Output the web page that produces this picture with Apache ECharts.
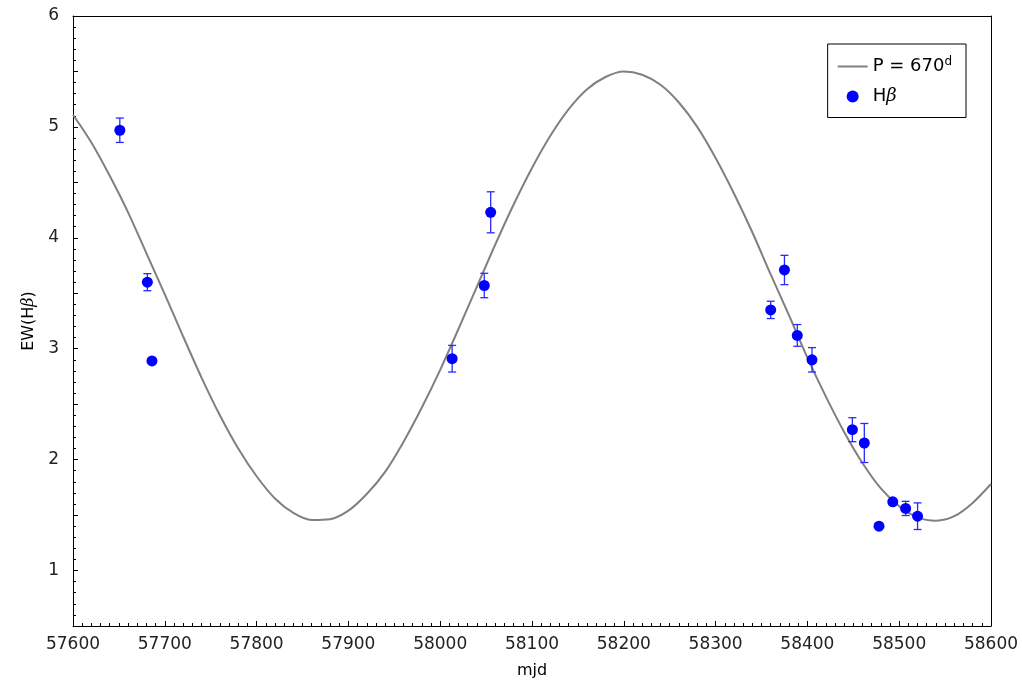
<!DOCTYPE html>
<html lang="en">
<head>
    <meta charset="UTF-8">
    <title>EW(Hβ)</title>
    <script src="https://cdn.jsdelivr.net/npm/echarts@6/dist/echarts.min.js"></script>
</head>
<body style="margin:0">
<div id="main" style="width:1022px;height:685px"></div>

<script>
    // model curve (P = 670 d), every 20 days
    var curveX = [57600, 57620, 57640, 57660, 57680, 57700, 57720, 57740, 57760, 57780,
        57800, 57820, 57840, 57860, 57880, 57900, 57920, 57940, 57960, 57980,
        58000, 58020, 58040, 58060, 58080, 58100, 58120, 58140, 58160, 58180,
        58200, 58220, 58240, 58260, 58280, 58300, 58320, 58340, 58360, 58380,
        58400, 58420, 58440, 58460, 58480, 58500, 58520, 58540, 58560, 58580, 58600];
    var curveY = [5.11, 4.86, 4.56, 4.23, 3.86, 3.49, 3.11, 2.74, 2.40, 2.10,
        1.85, 1.65, 1.52, 1.456, 1.463, 1.54, 1.69, 1.89, 2.16, 2.47,
        2.81, 3.18, 3.56, 3.94, 4.30, 4.63, 4.92, 5.16, 5.34, 5.45,
        5.50, 5.47, 5.38, 5.22, 5.00, 4.72, 4.40, 4.05, 3.67, 3.30,
        2.92, 2.57, 2.25, 1.97, 1.74, 1.58, 1.48, 1.45, 1.49, 1.61, 1.78];

    // Hβ measurements
    var mjd = [57651, 57681, 57686, 58013, 58048, 58055, 58360, 58375,
        58389, 58405, 58449, 58462, 58478, 58493, 58507, 58520];
    var ew = [4.97, 3.60, 2.89, 2.91, 3.57, 4.23, 3.35, 3.71,
        3.12, 2.90, 2.27, 2.15, 1.40, 1.62, 1.56, 1.49];
    var ewErr = [0.11, 0.077, 0.02, 0.12, 0.11, 0.185, 0.078, 0.132,
        0.098, 0.11, 0.108, 0.176, 0.02, 0.02, 0.064, 0.12];

    var yTicks = [1, 2, 3, 4, 5, 6];

    var curve = [];
    for (var i = 0; i < curveX.length; i++) {
        curve.push([curveX[i], curveY[i]]);
    }
    var points = [];
    for (var j = 0; j < mjd.length; j++) {
        points.push([mjd[j], ew[j], ewErr[j]]);
    }

    var myChart = echarts.init(document.getElementById("main"));
    var font = 'DejaVu Sans';
    var frame = {
        type: 'value',
        axisLine: {show: true, onZero: false, lineStyle: {color: '#000', width: 1}},
        axisTick: {show: false},
        minorTick: {show: false},
        axisLabel: {show: false},
        splitLine: {show: false}
    };

    var option = {
        animation: false,
        backgroundColor: '#fff',
        grid: {left: 73, right: 31, top: 16, bottom: 59},
        legend: {
            orient: 'vertical',
            right: 56,
            top: 44,
            padding: [12, 14, 12, 10],
            itemGap: 12,
            itemWidth: 30,
            itemHeight: 12,
            borderColor: '#000',
            borderWidth: 1,
            borderRadius: 0,
            textStyle: {
                fontFamily: font, fontSize: 18, color: '#000',
                rich: {
                    t: {fontFamily: font, fontSize: 18, color: '#000'},
                    s: {fontFamily: font, fontSize: 12, color: '#000', verticalAlign: 'top', padding: [0, 0, 9, 0]},
                    i: {fontFamily: 'DejaVu Serif', fontStyle: 'italic', fontSize: 18, color: '#000'}
                }
            },
            formatter: function (name) {
                if (name === 'P') return '{t|P = 670}{s|d}';
                return '{t|H}{i|β}';
            },
            data: [
                {name: 'P', icon: 'path://M0,0L30,0L30,2L0,2Z', itemStyle: {color: '#808080'}},
                {name: 'Hb', icon: 'circle'}
            ]
        },
        xAxis: [{
            type: 'value',
            position: 'bottom',
            min: 57600, max: 58600, interval: 100,
            name: 'mjd',
            nameLocation: 'middle',
            nameGap: 37,
            nameTextStyle: {fontFamily: font, fontSize: 16, color: '#000'},
            axisLine: {show: true, onZero: false, lineStyle: {color: '#000', width: 1}},
            axisTick: {show: true, inside: true, length: 5, lineStyle: {color: '#000', width: 1}},
            minorTick: {show: true, splitNumber: 10, length: 3, lineStyle: {color: '#000', width: 1}},
            axisLabel: {
                fontFamily: font, fontSize: 17, color: '#222', margin: 10,
                formatter: function (v) { return String(v); }
            },
            splitLine: {show: false}
        }, Object.assign({position: 'top', min: 57600, max: 58600}, frame)],
        yAxis: [{
            type: 'value',
            position: 'left',
            min: 0.5, max: 6, interval: 0.5,
            name: '{t|EW(H}{i|β}{t|)}',
            nameLocation: 'middle',
            nameGap: 32,
            nameRotate: 90,
            nameTextStyle: {
                fontFamily: font, fontSize: 16, color: '#000',
                rich: {
                    t: {fontFamily: font, fontSize: 16, color: '#000'},
                    i: {fontFamily: 'DejaVu Serif', fontStyle: 'italic', fontSize: 16, color: '#000'}
                }
            },
            axisLine: {show: true, onZero: false, lineStyle: {color: '#000', width: 1}},
            axisTick: {show: true, inside: true, length: 5, lineStyle: {color: '#000', width: 1}},
            minorTick: {show: true, splitNumber: 5, length: 3, lineStyle: {color: '#000', width: 1}},
            axisLabel: {
                fontFamily: font, fontSize: 17, color: '#222', margin: 14,
                formatter: function (v) {
                    return yTicks.indexOf(v) >= 0 ? String(v) : '';
                }
            },
            splitLine: {show: false}
        }, Object.assign({position: 'right', min: 0.5, max: 6}, frame)],
        series: [
            {
                name: 'P',
                type: 'line',
                data: curve,
                smooth: 0.3,
                showSymbol: false,
                lineStyle: {color: '#808080', width: 2},
                itemStyle: {color: '#808080'},
                z: 2
            },
            {
                name: 'errbar',
                type: 'custom',
                data: points,
                z: 3,
                renderItem: function (params, api) {
                    var x = api.value(0), y = api.value(1), e = api.value(2);
                    var lo = api.coord([x, y - e]);
                    var hi = api.coord([x, y + e]);
                    var style = {stroke: '#2a2aff', lineWidth: 1.3};
                    return {
                        type: 'group',
                        children: [
                            {type: 'line', shape: {x1: lo[0], y1: lo[1], x2: hi[0], y2: hi[1]}, style: style},
                            {type: 'line', shape: {x1: lo[0] - 4, y1: lo[1], x2: lo[0] + 4, y2: lo[1]}, style: style},
                            {type: 'line', shape: {x1: hi[0] - 4, y1: hi[1], x2: hi[0] + 4, y2: hi[1]}, style: style}
                        ]
                    };
                }
            },
            {
                name: 'Hb',
                type: 'scatter',
                data: points,
                symbol: 'circle',
                symbolSize: 11,
                itemStyle: {color: '#0000ff', opacity: 1},
                z: 4
            }
        ]
    };

    myChart.setOption(option);
</script>
</body>
</html>
